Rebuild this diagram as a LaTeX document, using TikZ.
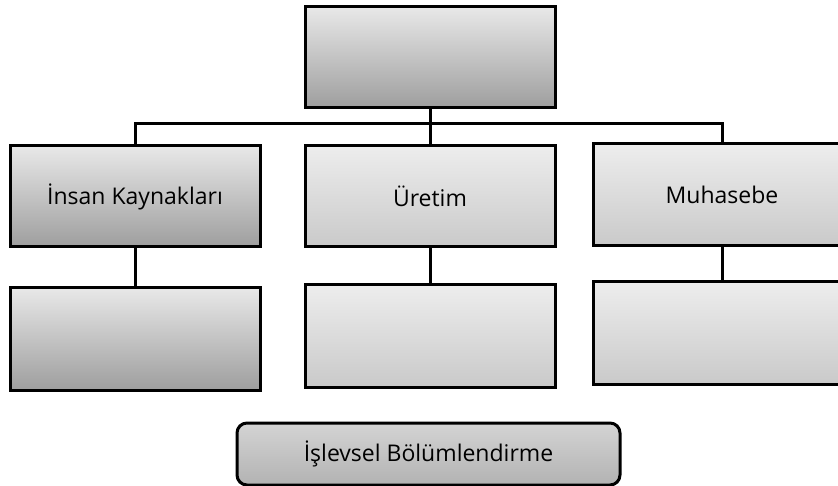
\documentclass[tikz,border=0pt]{standalone}
\usepackage{fontspec}
\setmainfont{Open Sans}

\begin{document}
\begin{tikzpicture}[x=1pt,y=-1pt,line width=3pt,
    box/.style={draw,rectangle,minimum width=250pt,minimum height=101pt,inner sep=0pt,font=\fontsize{23}{27}\selectfont},
    dark/.style={box,top color=black!9,bottom color=black!38},
    light/.style={box,top color=black!7,bottom color=black!21},
    tag/.style={draw,rectangle,rounded corners=10pt,minimum width=383pt,minimum height=62pt,top color=black!17,bottom color=black!30,font=\fontsize{23}{27}\selectfont}]
    \clip (0,0) rectangle (838,486);

    \node[dark] (top) at (430,57.5) {};
    \node[dark] (ik) at (135,196.5) {İnsan Kaynakları};
    \node[light] (uretim) at (430,196.5) {Üretim};
    \node[light,minimum width=258pt,minimum height=102pt] (muh) at (722,195) {Muhasebe};

    \node[dark,minimum height=102pt] (ik2) at (135,339) {};
    \node[light,minimum height=102pt] (uretim2) at (430,336) {};
    \node[light,minimum width=258pt,minimum height=102pt] (muh2) at (722,333) {};

    \node[tag] (islev) at (428.5,454) {İşlevsel Bölümlendirme};

    % baglantilar
    \coordinate (bus) at (430,124);
    \draw (top) -- (bus);
    \draw (ik.north) |- (bus) -| (muh.north);
    \draw (uretim) -- (bus);
    \draw (ik) -- (ik2);
    \draw (uretim) -- (uretim2);
    \draw (muh) -- (muh2);
\end{tikzpicture}
\end{document}
